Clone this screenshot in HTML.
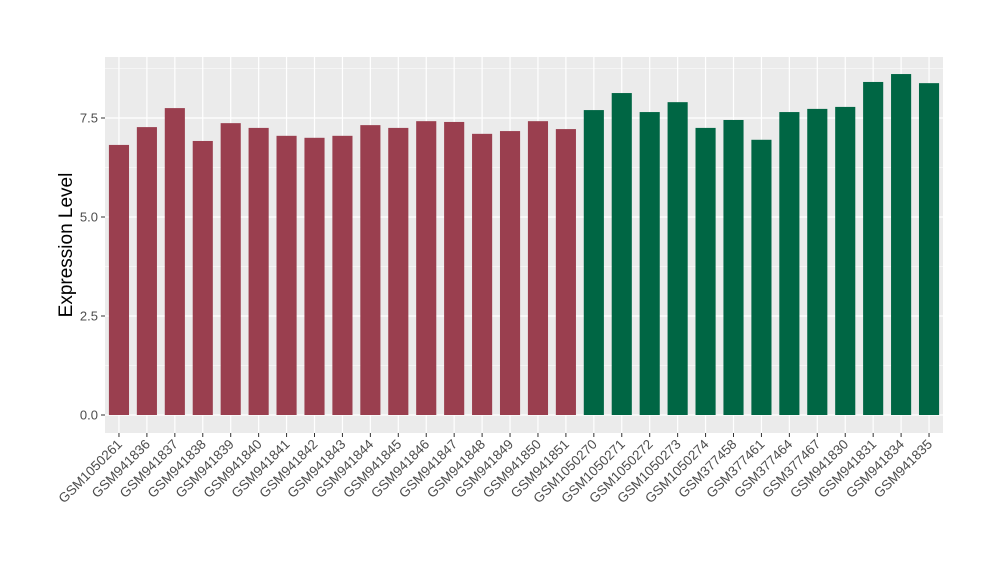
<!DOCTYPE html>
<html><head><meta charset="utf-8">
<style>
body{margin:0;background:#fff;}
svg text{font-family:"Liberation Sans",sans-serif;}
</style></head>
<body>
<svg id="chart" width="1000" height="580" xmlns="http://www.w3.org/2000/svg">
<rect x="105" y="57" width="838" height="376" fill="#ebebeb"/>
<g id="grid"></g>
<g id="bars"></g>
<g id="yaxis"></g>
<g id="xaxis"></g>
<text transform="translate(72,245) rotate(-90)" text-anchor="middle" font-size="19" fill="#000">Expression Level</text>
</svg>
<script>
const categories=["GSM1050261","GSM941836","GSM941837","GSM941838","GSM941839","GSM941840","GSM941841","GSM941842","GSM941843","GSM941844","GSM941845","GSM941846","GSM941847","GSM941848","GSM941849","GSM941850","GSM941851","GSM1050270","GSM1050271","GSM1050272","GSM1050273","GSM1050274","GSM377458","GSM377461","GSM377464","GSM377467","GSM941830","GSM941831","GSM941834","GSM941835"];
const values=[6.82,7.27,7.75,6.92,7.37,7.25,7.05,7.0,7.05,7.32,7.25,7.42,7.4,7.1,7.17,7.42,7.22,7.7,8.13,7.65,7.9,7.25,7.45,6.95,7.65,7.73,7.78,8.41,8.61,8.38];
const groups=["a","a","a","a","a","a","a","a","a","a","a","a","a","a","a","a","a","b","b","b","b","b","b","b","b","b","b","b","b","b"];
const yTicks=[0,2.5,5,7.5];
const yTickLabels=["0.0","2.5","5.0","7.5"];
const colors={a:"#9a3f4f",b:"#006644"};
const NS="http://www.w3.org/2000/svg";
const x0=105,x1=943;
const step=(x1-x0)/categories.length;
const xc=i=>x0+step*(i+0.5);
const y=v=>415-v*39.6;
function mk(tag,attrs,parent){const e=document.createElementNS(NS,tag);for(const k in attrs)e.setAttribute(k,attrs[k]);parent.appendChild(e);return e;}
const grid=document.getElementById('grid'),bars=document.getElementById('bars'),ya=document.getElementById('yaxis'),xa=document.getElementById('xaxis');
for(let t=0;t<yTicks.length;t++){
  const yy=y(yTicks[t]);
  const g=mk('line',{x1:x0,x2:x1,y1:yy,y2:yy,stroke:'#fff','stroke-width':1.2},grid);
  
  
  if(t<yTicks.length-1){const ym=y((yTicks[t]+yTicks[t+1])/2);
    const m=mk('line',{x1:x0,x2:x1,y1:ym,y2:ym,stroke:'#fff','stroke-width':0.6},grid);
    
    }
  const tk=mk('line',{x1:x0-4,x2:x0,y1:yy,y2:yy,stroke:'#333'},ya);
  
  
  const tl=mk('text',{x:x0-7,y:yy+4.5,'text-anchor':'end','font-size':13,fill:'#4d4d4d'},ya);
  
  
  tl.textContent=yTickLabels[t];
}
{const ym=y(8.75);const m=mk('line',{x1:x0,x2:x1,y1:ym,y2:ym,stroke:'#fff','stroke-width':0.6},grid);
 
 }
const bw=step*0.72;
categories.forEach((c,i)=>{
  const g=mk('line',{x1:xc(i),x2:xc(i),y1:57,y2:433,stroke:'#fff','stroke-width':1.2},grid);
  
  
  const b=mk('rect',{x:xc(i)-bw/2,y:y(values[i]),width:bw,height:y(0)-y(values[i]),fill:colors[groups[i]]},bars);
  
  
  const tk=mk('line',{x1:xc(i),x2:xc(i),y1:433,y2:437,stroke:'#333'},xa);
  
  
  const tl=mk('text',{transform:`translate(${xc(i)+4},${445}) rotate(-45)`,'text-anchor':'end','font-size':13.5,fill:'#4d4d4d'},xa);
  
  
  tl.textContent=c;
});
</script>
</body></html>
